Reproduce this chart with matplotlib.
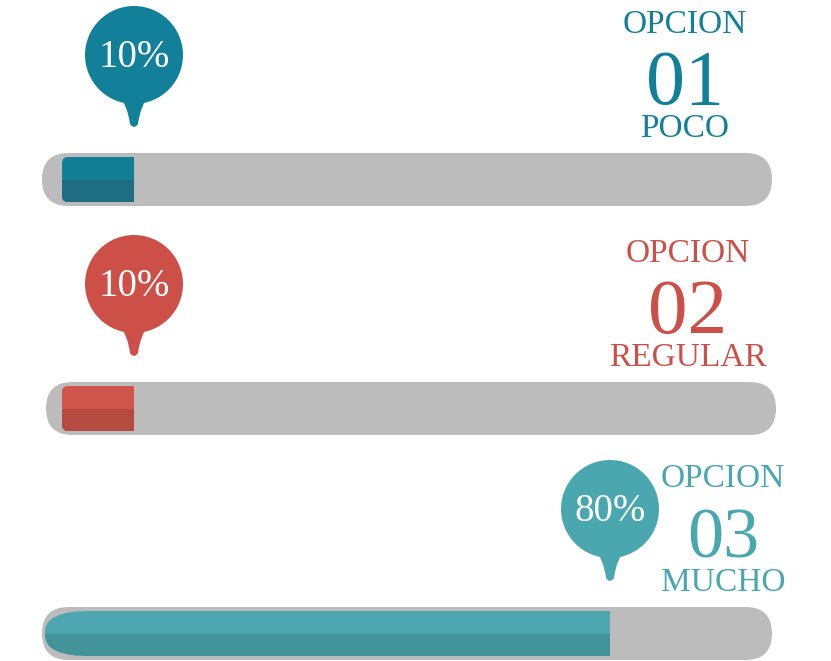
import matplotlib.pyplot as plt
from matplotlib.patches import FancyBboxPatch, Rectangle, Circle, PathPatch
from matplotlib.path import Path

# survey results
options = ['01', '02', '03']
answers = ['POCO', 'REGULAR', 'MUCHO']
values = [10, 10, 80]          # percent
labels = ['10%', '10%', '80%']

# colours per option: light fill, dark fill, text/pin
light = ['#137f96', '#cf5449', '#4ea7b0']
dark = ['#1f6d80', '#b44a40', '#43939a']
ink = ['#13809a', '#cc5048', '#4aa7b0']
grey = '#bcbcbc'

# layout (pixels)
track_top = [153, 382, 607]
track_left = [42, 46, 42]
track_w = 730
track_h = 53
label_x = [685, 688, 723]
num_size = [56, 57, 52]
round_cap = [False, False, True]

S = 6.8     # pixels per percent
X0 = 66     # pixel position of 0 %

fig = plt.figure(figsize=(8.31, 6.61), dpi=100)
ax = fig.add_axes([0, 0, 1, 1])
ax.set_xlim(-X0 / S, (831 - X0) / S)
ax.set_ylim(661 / S, 0)
ax.axis('off')


def P(v):
    # pixel length -> data units
    return v / S


serif = 'Liberation Serif'

for i in range(3):
    top = track_top[i]
    # grey track
    ax.add_patch(FancyBboxPatch((P(track_left[i] - X0), P(top)), P(track_w), P(track_h),
                                boxstyle=f'round,pad=0,rounding_size={P(track_h / 2)}',
                                fc=grey, ec='none'))

    # coloured fill
    v = values[i]
    fy, fh = P(top + 4), P(track_h - 8)
    if round_cap[i]:
        fx = P(45 - X0)
        shape = FancyBboxPatch((fx, fy), v - fx + P(60), fh,
                               boxstyle=f'round,pad=0,rounding_size={P(44)}',
                               mutation_aspect=0.48, fc=light[i], ec='none')
    else:
        fx = P(-4)
        shape = FancyBboxPatch((fx, fy), v - fx + P(20), fh,
                               boxstyle=f'round,pad=0,rounding_size={P(6)}',
                               fc=light[i], ec='none')
    ax.add_patch(shape)
    shape.set_clip_path(Rectangle((fx, fy), v - fx, fh, transform=ax.transData))
    lower = Rectangle((fx, fy + fh / 2), v - fx, fh / 2, fc=dark[i], ec='none')
    ax.add_patch(lower)
    lower.set_clip_path(shape)

    # pin marker above the fill end
    cy = P(top - 98)
    r = P(49)
    ax.add_patch(Circle((v, cy), r, fc=ink[i], ec='none'))
    verts = [(v - P(16), cy + P(38)),
             (v - P(6), cy + P(52)), (v - P(4), cy + P(69)),
             (v, cy + P(75)), (v + P(4), cy + P(69)),
             (v + P(6), cy + P(52)), (v + P(16), cy + P(38)),
             (v - P(16), cy + P(38))]
    codes = [Path.MOVETO, Path.CURVE3, Path.CURVE3, Path.CURVE3, Path.CURVE3,
             Path.CURVE3, Path.CURVE3, Path.CLOSEPOLY]
    ax.add_patch(PathPatch(Path(verts, codes), fc=ink[i], ec='none'))
    ax.text(v, cy + P(12), labels[i], color='white', fontsize=28, family=serif,
            ha='center', va='baseline')

    # option label block
    lx = P(label_x[i] - X0)
    ax.text(lx, P(top - 120), 'OPCION', color=ink[i], fontsize=24, family=serif,
            ha='center', va='baseline')
    ax.text(lx, P(top - 49), options[i], color=ink[i], fontsize=num_size[i], family=serif,
            ha='center', va='baseline')
    ax.text(lx, P(top - 16), answers[i], color=ink[i], fontsize=24, family=serif,
            ha='center', va='baseline')

fig.savefig('out.png', dpi=100)
